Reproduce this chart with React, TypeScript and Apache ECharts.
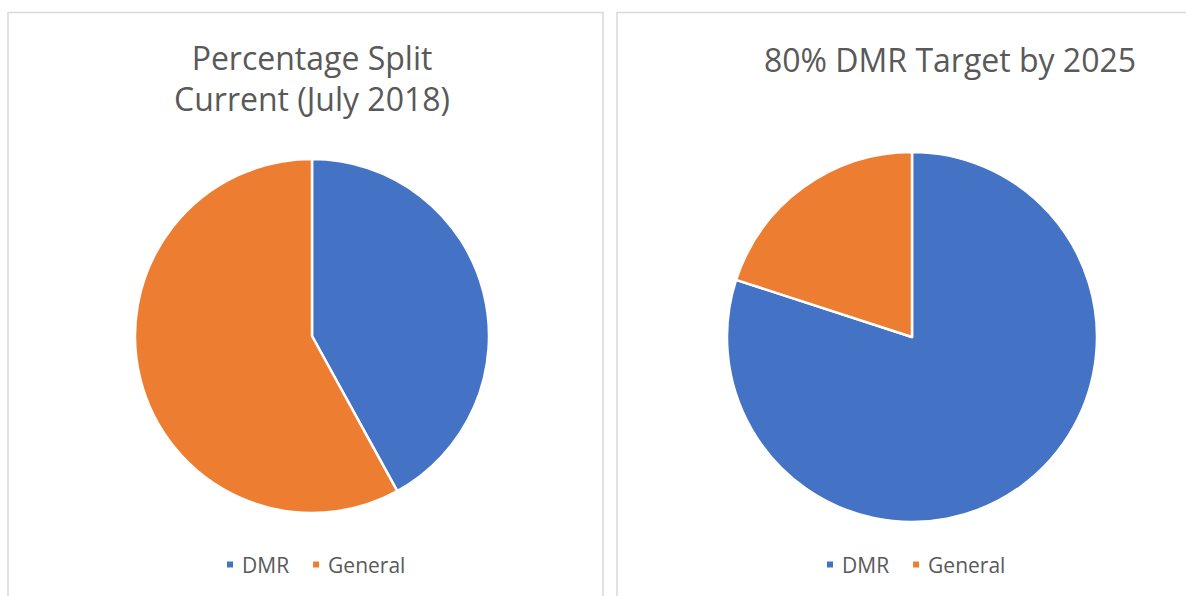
import React, { useEffect, useRef } from "react";
import * as echarts from "echarts";

const categories = ["DMR", "General"];
const currentValues = [42, 58];
const targetValues = [80, 20];
const colors = ["#4472C4", "#ED7D31"];
const leftTitleLines = ["Percentage Split", "Current (July 2018)"];
const rightTitle = "80% DMR Target by 2025";

export default function App() {
  const ref = useRef<HTMLDivElement>(null);
  useEffect(() => {
    document.body.style.margin = "0";
    const chart = echarts.init(ref.current!, null, { renderer: "svg" });
    const font = '"Open Sans", sans-serif';
    const titleStyle = (text: string, x: number, y: number) => ({
      type: "text",
      x,
      y,
      silent: true,
      style: {
        text,
        fill: "#595959",
        font: `32px ${font}`,
        textAlign: "center",
        textVerticalAlign: "middle",
      },
    });
    const legendBase = {
      orient: "horizontal",
      icon: "rect",
      itemWidth: 8,
      itemHeight: 8,
      itemGap: 22,
      padding: 0,
      selectedMode: false,
      textStyle: {
        fontSize: 21,
        fontFamily: font,
        color: "#595959",
        padding: [0, 0, 0, 3],
      },
      data: categories,
    };
    const mkData = (vals: number[]) =>
      categories.map((c, i) => ({ name: c, value: vals[i], itemStyle: { color: colors[i] } }));
    const pieBase = {
      type: "pie",
      startAngle: 90,
      clockwise: true,
      label: { show: false },
      labelLine: { show: false },
      silent: true,
      itemStyle: { borderColor: "#ffffff", borderWidth: 2.5 },
    };
    chart.setOption({
      animation: false,
      backgroundColor: "#ffffff",
      color: colors,
      legend: [
        { ...legendBase, left: 225, top: 554 },
        { ...legendBase, left: 825, top: 554 },
      ],
      series: [
        { ...pieBase, name: "Current", center: [312, 336], radius: 177, data: mkData(currentValues) },
        { ...pieBase, name: "Target", center: [912, 337], radius: 185, data: mkData(targetValues) },
      ],
      graphic: [
        {
          type: "rect",
          silent: true,
          shape: { x: 8, y: 12.5, width: 595, height: 620 },
          style: { fill: "none", stroke: "#d9d9d9", lineWidth: 1.5 },
        },
        {
          type: "rect",
          silent: true,
          shape: { x: 617, y: 12.5, width: 620, height: 620 },
          style: { fill: "none", stroke: "#d9d9d9", lineWidth: 1.5 },
        },
        titleStyle(leftTitleLines[0], 312, 57),
        titleStyle(leftTitleLines[1], 312, 98),
        titleStyle(rightTitle, 950, 59),
      ],
    });
    return () => chart.dispose();
  }, []);
  return <div ref={ref} style={{ width: 1186, height: 596 }} />;
}
